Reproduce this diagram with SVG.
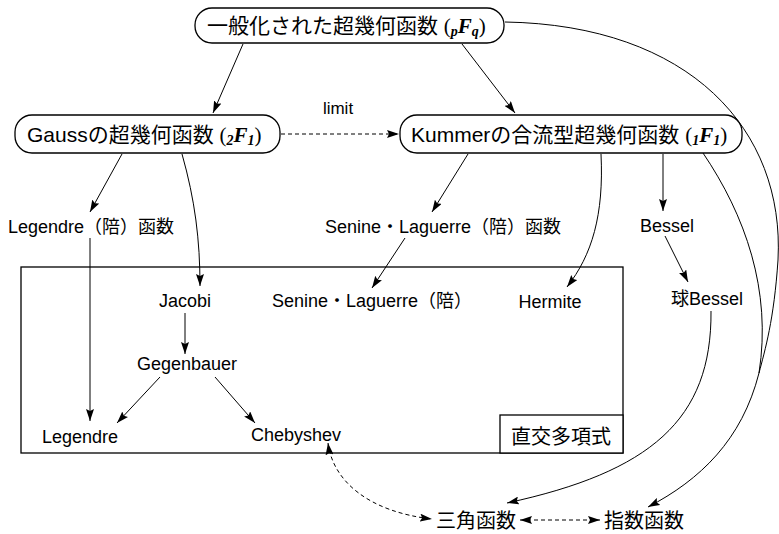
<svg xmlns="http://www.w3.org/2000/svg" width="779" height="534" viewBox="0 0 779 534">
<defs>
<marker id="ah" viewBox="0 0 12 8" refX="12" refY="4" markerWidth="12" markerHeight="8" markerUnits="userSpaceOnUse" orient="auto-start-reverse">
<path d="M0,0 L12,4 L0,8 L2,4 z" fill="#000"/>
</marker>
</defs>
<style>
text{font-family:"Liberation Sans","Noto Sans CJK JP",sans-serif;fill:#000}
.big{font-size:21px}
.lbl{font-size:18px;text-anchor:middle}
.m{font-family:"Liberation Serif",serif}
.mi{font-family:"Liberation Serif",serif;font-style:italic;font-weight:bold}
.sub{font-family:"Liberation Serif",serif;font-style:italic;font-weight:bold;font-size:14px}
.box{fill:#fff;stroke:#000;stroke-width:1.3}
.ln{fill:none;stroke:#000;stroke-width:1}
.ar{fill:none;stroke:#000;stroke-width:1;marker-end:url(#ah)}
.da{fill:none;stroke:#000;stroke-width:1;stroke-dasharray:4,3;marker-end:url(#ah)}
.db{fill:none;stroke:#000;stroke-width:1;stroke-dasharray:4,3;marker-end:url(#ah);marker-start:url(#ah)}
</style>

<g id="frame">
<rect x="21" y="267" width="602" height="186" fill="none" stroke="#000" stroke-width="1.3"/>
</g>

<g id="connectors">
<path class="ar" d="M243,44 L213,113"/>
<path class="ar" d="M462,44 L515,113"/>
<path class="da" d="M281,134 L399,134"/>
<path class="ar" d="M122,154 L90,212"/>
<path class="ar" d="M182,154 C195,200 200,240 200,286"/>
<path class="ar" d="M90,238 L90,421"/>
<path class="ar" d="M185,313 L185,354"/>
<path class="ar" d="M160,377 L117,423"/>
<path class="ar" d="M215,377 L255,423"/>
<path class="ar" d="M468,154 L432,212"/>
<path class="ar" d="M405,238 L372,288"/>
<path class="ar" d="M601,154 C604,215 592,255 567,287"/>
<path class="ar" d="M663,154 L663,211"/>
<path class="ar" d="M665,236 L688,282"/>
<path class="ar" d="M711,311 C712,420 650,472 507,503"/>
<path class="ar" d="M505,22 C690,25 785,130 778,260 C774,320 765,350 759,373 C742,440 700,480 648,507"/>
<path class="ln" d="M703,153 C745,215 772,290 759,373"/>
<path class="db" d="M328,443 C333,482 370,512 432,519"/>
<path class="db" d="M520,520 L600,520"/>
</g>

<g id="n-top">
<rect class="box" x="195" y="8" width="309" height="35" rx="17"/>
<text class="big" x="207" y="33">一般化された超幾何函数 <tspan class="m">(</tspan><tspan class="sub" dy="3">p</tspan><tspan class="mi" dy="-3">F</tspan><tspan class="sub" dy="3">q</tspan><tspan class="m" dy="-3">)</tspan></text>
</g>

<g id="n-gauss">
<rect class="box" x="15" y="115" width="265" height="38" rx="17"/>
<text class="big" x="27" y="142">Gaussの超幾何函数 <tspan class="m">(</tspan><tspan class="sub" font-style="normal" dy="3">2</tspan><tspan class="mi" dy="-3">F</tspan><tspan class="sub" font-style="normal" dy="3">1</tspan><tspan class="m" dy="-3">)</tspan></text>
</g>

<g id="n-kummer">
<rect class="box" x="400" y="115" width="342" height="38" rx="17"/>
<text class="big" x="411" y="142">Kummerの合流型超幾何函数 <tspan class="m">(</tspan><tspan class="sub" font-style="normal" dy="3">1</tspan><tspan class="mi" dy="-3">F</tspan><tspan class="sub" font-style="normal" dy="3">1</tspan><tspan class="m" dy="-3">)</tspan></text>
</g>

<g id="n-limit"><text x="338" y="114" font-size="17" text-anchor="middle">limit</text></g>
<g id="n-legfun"><text class="lbl" x="91" y="233">Legendre（陪）函数</text></g>
<g id="n-slfun"><text class="lbl" x="443" y="233">Senine・Laguerre（陪）函数</text></g>
<g id="n-bessel"><text class="lbl" x="667" y="232">Bessel</text></g>
<g id="n-sbessel"><text class="lbl" x="707" y="305">球Bessel</text></g>
<g id="n-jacobi"><text class="lbl" x="185" y="307">Jacobi</text></g>
<g id="n-sl"><text class="lbl" x="372" y="307">Senine・Laguerre（陪）</text></g>
<g id="n-hermite"><text class="lbl" x="550" y="308">Hermite</text></g>
<g id="n-gegen"><text class="lbl" x="187" y="370">Gegenbauer</text></g>
<g id="n-legendre"><text class="lbl" x="80" y="443">Legendre</text></g>
<g id="n-cheb"><text class="lbl" x="296" y="441">Chebyshev</text></g>
<g id="n-ortho">
<rect x="500" y="415" width="123" height="38" fill="#fff" stroke="#000" stroke-width="1.3"/>
<text x="561" y="444" font-size="20" text-anchor="middle">直交多項式</text>
</g>
<g id="n-trig"><text x="476" y="528" font-size="20" text-anchor="middle">三角函数</text></g>
<g id="n-exp"><text x="644" y="528" font-size="20" text-anchor="middle">指数函数</text></g>
</svg>
